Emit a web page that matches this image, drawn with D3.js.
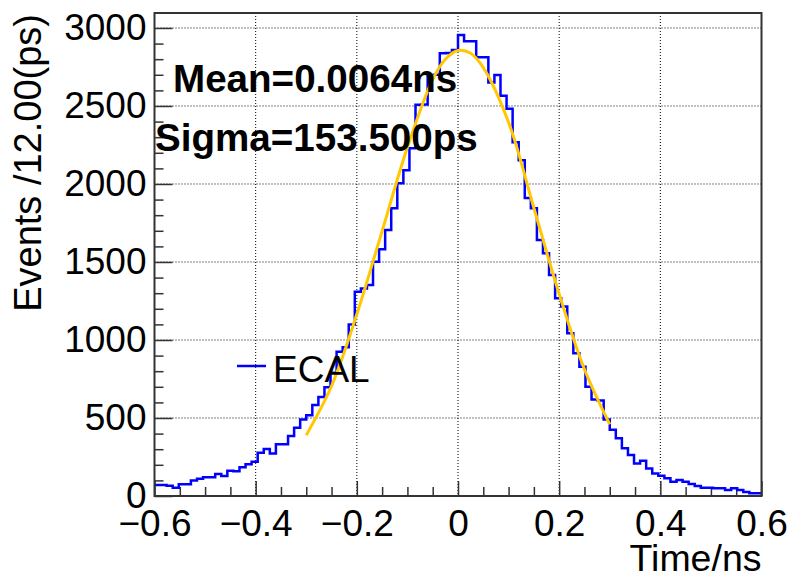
<!DOCTYPE html>
<html>
<head>
<meta charset="utf-8">
<script src="https://cdn.jsdelivr.net/npm/d3@7"></script>
<style>
  body { margin: 0; background: #fff; }
  svg { display: block; }
</style>
</head>
<body>
<svg id="chart" width="792" height="579"></svg>
<script>
// ECAL time distribution, 100 bins of 12 ps from -0.6 to 0.6 ns

const binStart = -0.6;
const binWidth = 0.012;
const counts = [
  70, 70, 66, 53, 75, 75, 100, 111, 120, 120,
  141, 128, 162, 158, 184, 203, 220, 278, 301, 273,
  331, 331, 385, 438, 491, 517, 583, 635, 697, 790,
  925, 953, 1100, 1310, 1330, 1352, 1502, 1581, 1705, 1844,
  2004, 2088, 2229, 2508, 2510, 2685, 2700, 2838, 2840, 2859,
  2955, 2915, 2915, 2812, 2812, 2650, 2699, 2565, 2482, 2268,
  2152, 1910, 1844, 1641, 1556, 1417, 1267, 1214, 1043, 915,
  829, 700, 618, 612, 490, 425, 370, 306, 263, 209,
  226, 177, 145, 130, 113, 92, 103, 92, 77, 64,
  53, 53, 49, 49, 38, 49, 38, 26, 17, 17
];

// fit curve
const fitX = [-0.3, -0.25, -0.2, -0.15, -0.1, -0.05, -0.025, 0, 0.025, 0.05, 0.1, 0.15, 0.2, 0.25, 0.3];
const fitY = [390, 705, 1165, 1698, 2235, 2670, 2800, 2856, 2838, 2746, 2395, 1846, 1295, 812, 459];

const xTicks = [-0.6, -0.4, -0.2, 0, 0.2, 0.4, 0.6];
const yTicks = [0, 500, 1000, 1500, 2000, 2500, 3000];
const statLines = ["Mean=0.0064ns", "Sigma=153.500ps"];
const legendLabel = "ECAL";
const xTitle = "Time/ns";
const yTitle = "Events /12.00(ps)";

const svg = d3.select("#chart");
const font = "'Liberation Sans', Arial, Helvetica, sans-serif";

const frame = { left: 154.5, right: 761.5, top: 13, bottom: 496 };

const x = d3.scaleLinear().domain([-0.6, 0.6]).range([frame.left, frame.right]);
const y = d3.scaleLinear().domain([0, 3096]).range([frame.bottom, frame.top]);

// grid
const grid = svg.append("g")
  .attr("stroke", "#000")
  .attr("stroke-width", 1)
  .attr("stroke-dasharray", "1,2");
grid.selectAll("line.gx")
  .data(xTicks.slice(1, -1))
  .join("line")
  .attr("x1", d => x(d)).attr("x2", d => x(d))
  .attr("y1", frame.top).attr("y2", frame.bottom);
grid.selectAll("line.gy")
  .data(yTicks.slice(1))
  .join("line")
  .attr("x1", frame.left).attr("x2", frame.right)
  .attr("y1", d => y(d)).attr("y2", d => y(d));

// axes, ticks pointing inside the frame
const minorX = d3.range(-0.6, 0.6001, 0.05).filter(v => Math.abs(Math.round(v * 5) - v * 5) > 1e-6);
const minorY = d3.range(0, 3096, 100).filter(v => v % 500 !== 0);

const xAxis = svg.append("g")
  .attr("transform", `translate(0,${frame.bottom})`)
  .call(d3.axisBottom(x).tickValues(xTicks).tickSize(-15).tickPadding(0)
    .tickFormat(d => d === 0 ? "0" : d3.format(".1f")(d)));
xAxis.selectAll("text").attr("y", 40).attr("dy", 0);
svg.append("g")
  .attr("transform", `translate(0,${frame.bottom})`)
  .call(d3.axisBottom(x).tickValues(minorX).tickSize(-9).tickFormat(""));

const yAxis = svg.append("g")
  .attr("transform", `translate(${frame.left},0)`)
  .call(d3.axisLeft(y).tickValues(yTicks).tickSize(-18).tickPadding(8).tickFormat(d3.format("d")));
svg.append("g")
  .attr("transform", `translate(${frame.left},0)`)
  .call(d3.axisLeft(y).tickValues(minorY).tickSize(-9).tickFormat(""));

svg.selectAll(".domain").remove();
svg.selectAll(".tick line").attr("stroke", "#333").attr("stroke-width", 1.5);
svg.selectAll(".tick text")
  .attr("font-family", font)
  .attr("font-size", 37)
  .attr("fill", "#000");

// histogram as a step line
const edges = counts.map((c, i) => binStart + i * binWidth);
const stepPts = [];
counts.forEach((c, i) => {
  stepPts.push([x(edges[i]), y(c)]);
  stepPts.push([x(edges[i] + binWidth), y(c)]);
});
svg.append("path")
  .attr("d", d3.line()(stepPts))
  .attr("fill", "none")
  .attr("stroke", "#0000ff")
  .attr("stroke-width", 2.5);

// gaussian fit
svg.append("path")
  .datum(fitX.map((v, i) => [v, fitY[i]]))
  .attr("d", d3.line().x(d => x(d[0])).y(d => y(d[1])).curve(d3.curveCatmullRom))
  .attr("fill", "none")
  .attr("stroke", "#ffc800")
  .attr("stroke-width", 3);

// frame
svg.append("rect")
  .attr("x", frame.left).attr("y", frame.top)
  .attr("width", frame.right - frame.left)
  .attr("height", frame.bottom - frame.top)
  .attr("fill", "none")
  .attr("stroke", "#333")
  .attr("stroke-width", 2);

// fit results
svg.selectAll("text.stat")
  .data(statLines)
  .join("text")
  .attr("class", "stat")
  .attr("x", (d, i) => i === 0 ? 173 : 155)
  .attr("y", (d, i) => i === 0 ? 92 : 151)
  .attr("font-family", font)
  .attr("font-weight", "bold")
  .attr("font-size", 38.6)
  .text(d => d);

// legend
svg.append("line")
  .attr("x1", 237).attr("x2", 266)
  .attr("y1", 366).attr("y2", 366)
  .attr("stroke", "#0000ff")
  .attr("stroke-width", 2.5);
svg.append("text")
  .attr("x", 273).attr("y", 381.5)
  .attr("font-family", font)
  .attr("font-size", 37)
  .text(legendLabel);

// axis titles
svg.append("text")
  .attr("x", frame.right).attr("y", 571)
  .attr("text-anchor", "end")
  .attr("font-family", font)
  .attr("font-size", 37.5)
  .text(xTitle);

svg.append("text")
  .attr("transform", "translate(41,14) rotate(-90)")
  .attr("text-anchor", "end")
  .attr("font-family", font)
  .attr("font-size", 38)
  .text(yTitle);
</script>
</body>
</html>
